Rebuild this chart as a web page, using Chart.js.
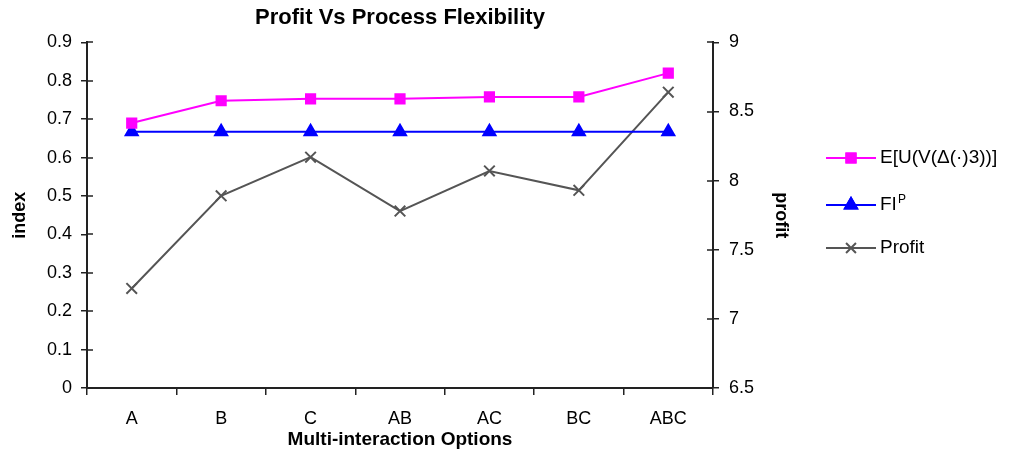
<!DOCTYPE html>
<html>
<head>
<meta charset="utf-8">
<script src="https://cdn.jsdelivr.net/npm/chart.js@4.4.0/dist/chart.umd.min.js"></script>
<style>
  html, body { margin: 0; padding: 0; background: #fff; }
  #wrap { width: 1018px; height: 451px; }
</style>
</head>
<body>
<div id="wrap"><canvas id="chart" width="1018" height="451"></canvas></div>
<script>
const options = ['A', 'B', 'C', 'AB', 'AC', 'BC', 'ABC'];
const expectedUtility = [0.69, 0.748, 0.753, 0.753, 0.758, 0.758, 0.82];
const flexIndex = [0.667, 0.667, 0.667, 0.667, 0.667, 0.667, 0.667];
const profit = [7.22, 7.89, 8.17, 7.78, 8.07, 7.93, 8.64];

const FONT = '"Liberation Sans", Arial, sans-serif';
const AXIS = '#222';

// draws the short tick marks on the inner side of both value axes
const innerTicks = {
  id: 'innerTicks',
  afterDraw(chart) {
    const c = chart.ctx;
    c.save();
    c.strokeStyle = AXIS;
    c.lineWidth = 1.5;
    ['y', 'y1'].forEach(id => {
      const s = chart.scales[id];
      const x = id === 'y' ? s.right : s.left;
      const dir = id === 'y' ? 1 : -1;
      s.ticks.forEach((t, i) => {
        const py = Math.round(s.getPixelForTick(i));
        c.beginPath();
        c.moveTo(x, py);
        c.lineTo(x + dir * 6, py);
        c.stroke();
      });
    });
    c.restore();
  }
};

const legendItems = [
  { text: 'E[U(V(\u0394(\u00b7)3))]', color: '#FF00FF', style: 'rect', y: 158 },
  { text: 'FI', sup: 'P', color: '#0000FF', style: 'triangle', y: 205 },
  { text: 'Profit', color: '#555555', style: 'crossRot', y: 248 }
];

const sideLegend = {
  id: 'sideLegend',
  afterDraw(chart) {
    const c = chart.ctx;
    c.save();
    legendItems.forEach(it => {
      c.strokeStyle = it.color;
      c.lineWidth = 2;
      c.beginPath();
      c.moveTo(826, it.y);
      c.lineTo(876, it.y);
      c.stroke();
      Chart.helpers.drawPoint(c, {
        pointStyle: it.style, radius: it.style === 'rect' ? 6.5 : 7, borderWidth: 2
      }, 851, it.y);
      c.fillStyle = it.color;
      c.beginPath();
      if (it.style !== 'crossRot') {
        Chart.helpers.drawPoint(c, {
          pointStyle: it.style, radius: it.style === 'rect' ? 6.5 : 7, borderWidth: 1
        }, 851, it.y);
        c.fill();
      }
      c.fillStyle = '#000';
      c.font = '19px ' + FONT;
      c.textBaseline = 'middle';
      c.textAlign = 'left';
      c.fillText(it.text, 880, it.y);
      if (it.sup) {
        const w = c.measureText(it.text).width;
        c.font = '12px ' + FONT;
        c.fillText(it.sup, 880 + w + 1, it.y - 5);
      }
    });
    c.restore();
  }
};

new Chart(document.getElementById('chart'), {
  type: 'line',
  data: {
    labels: options,
    datasets: [
      {
        label: 'E[U(V(\u0394(\u00b7)3))]',
        data: expectedUtility,
        yAxisID: 'y',
        borderColor: '#FF00FF',
        backgroundColor: '#FF00FF',
        borderWidth: 2,
        pointStyle: 'rect',
        pointRadius: 6.5,
        tension: 0
      },
      {
        label: 'FIP',
        data: flexIndex,
        yAxisID: 'y',
        borderColor: '#0000FF',
        backgroundColor: '#0000FF',
        borderWidth: 2,
        pointStyle: 'triangle',
        pointRadius: 7,
        tension: 0
      },
      {
        label: 'Profit',
        data: profit,
        yAxisID: 'y1',
        borderColor: '#555555',
        backgroundColor: '#555555',
        borderWidth: 2,
        pointStyle: 'crossRot',
        pointRadius: 7.5,
        pointBorderWidth: 2,
        tension: 0
      }
    ]
  },
  options: {
    responsive: false,
    animation: false,
    layout: { padding: { top: 0, right: 218, bottom: 0, left: 0 } },
    plugins: {
      legend: { display: false },
      tooltip: { enabled: false },
      title: {
        display: true,
        text: 'Profit Vs Process Flexibility',
        color: '#000',
        font: { family: FONT, size: 22, weight: 'bold', lineHeight: 1.2 },
        padding: { top: 5, bottom: 11 }
      }
    },
    scales: {
      x: {
        offset: true,
        grid: { offset: true, drawOnChartArea: false, color: AXIS, lineWidth: 1.5, tickLength: 7 },
        border: { color: AXIS, width: 2 },
        ticks: { color: '#000', font: { family: FONT, size: 18 }, padding: 13, maxRotation: 0 },
        title: {
          display: true, text: 'Multi-interaction Options', color: '#000',
          font: { family: FONT, size: 19, weight: 'bold' }, padding: { top: 0, bottom: 0 }
        },
        afterFit(s) { s.height = 63; }
      },
      y: {
        position: 'left',
        min: 0, max: 0.9,
        grid: { drawOnChartArea: false, color: AXIS, lineWidth: 1.5, tickLength: 6 },
        border: { color: AXIS, width: 2 },
        ticks: { stepSize: 0.1, color: '#000', font: { family: FONT, size: 18 }, padding: 9 },
        title: {
          display: true, text: 'index', color: '#000',
          font: { family: FONT, size: 18, weight: 'bold' }, padding: { top: 9, bottom: 0 }
        },
        afterFit(s) { s.width = 87; }
      },
      y1: {
        position: 'right',
        min: 6.5, max: 9,
        grid: { drawOnChartArea: false, color: AXIS, lineWidth: 1.5, tickLength: 6 },
        border: { color: AXIS, width: 2 },
        ticks: {
          stepSize: 0.5, color: '#000', font: { family: FONT, size: 18 }, padding: 10,
          callback: v => String(v)
        },
        title: {
          display: true, text: 'profit', color: '#000',
          font: { family: FONT, size: 18, weight: 'bold' }, padding: { top: 8, bottom: 0 }
        },
        afterFit(s) { s.width = 87; }
      }
    }
  },
  plugins: [innerTicks, sideLegend]
});
</script>
</body>
</html>
